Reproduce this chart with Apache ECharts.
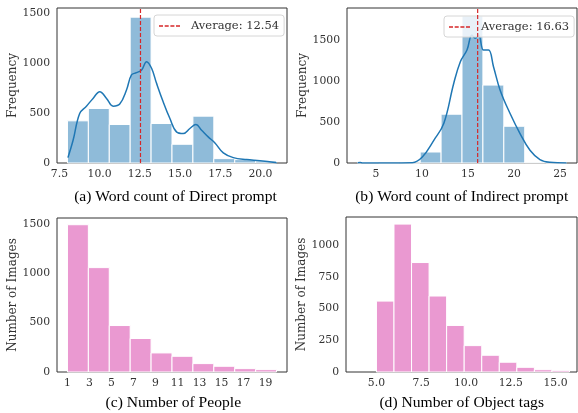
<!DOCTYPE html>
<html>
<head>
<meta charset="utf-8">
<script src="https://cdn.jsdelivr.net/npm/echarts@6/dist/echarts.min.js"></script>
<style>html,body{margin:0;padding:0;background:#fff}#c{width:578px;height:413px}</style>
</head>
<body>
<div id="c"></div>
<script>
// ---- data ----
const edgesA = [8, 9.3, 10.6, 11.9, 13.2, 14.5, 15.8, 17.1, 18.4, 19.7, 21];
const countsA = [423, 547, 386, 1463, 396, 188, 470, 44, 34, 20];
const kdeAx = [8.03, 8.35, 8.76, 9.18, 9.59, 10.01, 10.43, 10.84, 11.25, 11.67, 11.98, 12.29, 12.61, 12.92, 13.23, 13.54, 13.95, 14.37, 14.78, 15.2, 15.61, 15.99, 16.34, 16.75, 17.17, 17.69, 18.31, 19.14, 19.97, 21.01];
const kdeAy = [54, 228, 497, 570, 648, 715, 648, 570, 591, 732, 883, 906, 933, 1017, 950, 799, 614, 446, 312, 295, 346, 386, 329, 262, 201, 101, 54, 34, 23, 3];
const meanA = 12.54;
const legendA = 'Average: 12.54';

const edgesB = [3, 5.27, 7.54, 9.81, 12.08, 14.35, 16.62, 18.89, 21.16, 23.43, 25.7];
const countsB = [5, 0, 0, 134, 595, 1793, 950, 448, 8, 1];
const kdeBx = [3.02, 3.3, 3.56, 8.96, 10.04, 11.29, 12.37, 13.45, 14.17, 14.89, 15.43, 15.79, 16.15, 16.69, 17.23, 17.77, 18.49, 19.57, 20.65, 21.73, 22.81, 23.88, 25.7];
const kdeBy = [4, 5, 0, 4, 73, 277, 481, 970, 1235, 1377, 1561, 1520, 1561, 1377, 1377, 1174, 888, 603, 359, 155, 41, 8, 0];
const meanB = 16.05;
const legendB = 'Average: 16.63';

const edgesC = [1, 2.9, 4.8, 6.7, 8.6, 10.5, 12.4, 14.3, 16.2, 18.1, 20];
const countsC = [1490, 1056, 470, 339, 193, 159, 85, 58, 34, 24];
const ticksC = [1, 3, 5, 7, 9, 11, 13, 15, 17, 19];

const edgesD = [5, 5.98, 6.96, 7.94, 8.92, 9.9, 10.88, 11.86, 12.84, 13.82, 14.8, 15.78];
const countsD = [559, 1166, 863, 599, 367, 208, 132, 77, 37, 18, 13];
const ticksD = [5, 7.5, 10, 12.5, 15];

const ticksA = [7.5, 10, 12.5, 15, 17.5, 20];
const ticksB = [5, 10, 15, 20, 25];

const captions = ['(a) Word count of Direct prompt', '(b) Word count of Indirect prompt', '(c) Number of People', '(d) Number of Object tags'];
const yNames = ['Frequency', 'Frequency', 'Number of Images', 'Number of Images'];

// ---- styling ----
const F = 'DejaVu Serif';
const TXT = '#333';
const BLUE_BAR = '#8fbbd9';
const PINK_BAR = '#ea99d1';
const KDE = '#1f77b4';
const RED = '#d62728';
const DASH_ICON = 'path://M0,0h4v1.5h-4z M5.7,0h4v1.5h-4z M11.4,0h4v1.5h-4z M17,0h4v1.5h-4z M26.9,0h0.1v0.05h-0.1z';

function binData(edges, counts) {
  return counts.map((c, i) => [edges[i], edges[i + 1], c]);
}
function histSeries(idx, edges, counts, color) {
  return {
    type: 'custom', xAxisIndex: idx, yAxisIndex: idx,
    data: binData(edges, counts),
    encode: { x: [0, 1], y: 2 },
    renderItem: function (params, api) {
      const p0 = api.coord([api.value(0), api.value(2)]);
      const p1 = api.coord([api.value(1), 0]);
      return {
        type: 'rect',
        shape: { x: p0[0], y: p0[1], width: p1[0] - p0[0], height: p1[1] - p0[1] },
        style: { fill: color, stroke: '#ffffff', lineWidth: 1 }
      };
    },
    z: 2, silent: true
  };
}
function kdeSeries(idx, xs, ys) {
  return {
    type: 'line', xAxisIndex: idx, yAxisIndex: idx, smooth: 0.4, symbol: 'none',
    data: xs.map((x, i) => [x, ys[i]]),
    lineStyle: { color: KDE, width: 1.5 }, z: 3, silent: true
  };
}
function meanSeries(idx, name, x, top) {
  return {
    type: 'line', name: name, xAxisIndex: idx, yAxisIndex: idx, symbol: 'none',
    data: [[x, 0], [x, top]],
    lineStyle: { color: RED, width: 1.2, type: [4, 2] },
    itemStyle: { color: RED }, z: 4, silent: true
  };
}
function xAxis(idx, min, max, ticks, fmt) {
  return {
    type: 'value', gridIndex: idx, min: min, max: max,
    axisLine: { show: false }, axisTick: { show: false }, splitLine: { show: false },
    axisLabel: { customValues: ticks, formatter: fmt, fontFamily: F, fontSize: 10.8, color: TXT, margin: 6 }
  };
}
function yAxis(idx, max, interval, name) {
  return {
    type: 'value', gridIndex: idx, min: 0, max: max, interval: interval,
    name: name, nameLocation: 'middle', nameGap: 32,
    nameTextStyle: { fontFamily: F, fontSize: 12, color: TXT },
    axisLine: { show: false }, axisTick: { show: false }, splitLine: { show: false },
    axisLabel: { fontFamily: F, fontSize: 10.8, color: TXT, margin: 7, showMaxLabel: false, formatter: v => String(v) }
  };
}
function legendCfg(name, left, top) {
  return {
    data: [{ name: name, icon: DASH_ICON, itemStyle: { color: RED } }],
    left: left, top: top, orient: 'vertical',
    itemWidth: 27, itemHeight: 1.5, itemGap: 5, padding: [5, 5, 4, 5],
    backgroundColor: 'rgba(255,255,255,0.8)', borderColor: '#d6d6d6', borderWidth: 1, borderRadius: 3,
    textStyle: { fontFamily: F, fontSize: 11.5, color: TXT }
  };
}
const gridBase = { show: true, borderColor: '#333', borderWidth: 1, backgroundColor: 'transparent', containLabel: false };

const yMaxA = 1555, yMaxB = 1890, yMaxC = 1558, yMaxD = 1222;

const capFont = '15.6px "Liberation Serif"';
const option = {
  animation: false,
  backgroundColor: '#fff',
  grid: [
    Object.assign({ left: 57, top: 8, width: 230, height: 155 }, gridBase),
    Object.assign({ left: 347, top: 8, width: 230, height: 155 }, gridBase),
    Object.assign({ left: 57, top: 218, width: 230, height: 154 }, gridBase),
    Object.assign({ left: 346, top: 217, width: 231, height: 155 }, gridBase)
  ],
  xAxis: [
    xAxis(0, 7.35, 21.65, ticksA, v => v.toFixed(1)),
    xAxis(1, 1.865, 26.835, ticksB, v => String(v)),
    xAxis(2, 0.05, 20.95, ticksC, v => String(v)),
    xAxis(3, 3.3, 16.2, ticksD, v => v.toFixed(1))
  ],
  yAxis: [
    yAxis(0, yMaxA, 500, yNames[0]),
    yAxis(1, yMaxB, 500, yNames[1]),
    yAxis(2, yMaxC, 500, yNames[2]),
    yAxis(3, yMaxD, 250, yNames[3])
  ],
  legend: [legendCfg(legendA, 154, 15), legendCfg(legendB, 444, 16)],
  series: [
    histSeries(0, edgesA, countsA, BLUE_BAR),
    kdeSeries(0, kdeAx, kdeAy),
    meanSeries(0, legendA, meanA, yMaxA),
    histSeries(1, edgesB, countsB, BLUE_BAR),
    kdeSeries(1, kdeBx, kdeBy),
    meanSeries(1, legendB, meanB, yMaxB),
    histSeries(2, edgesC, countsC, PINK_BAR),
    histSeries(3, edgesD, countsD, PINK_BAR)
  ],
  graphic: [
    { type: 'text', x: 175.5, y: 197, style: { text: captions[0], textAlign: 'center', textVerticalAlign: 'middle', font: capFont, fill: '#000' } },
    { type: 'text', x: 461.7, y: 197, style: { text: captions[1], textAlign: 'center', textVerticalAlign: 'middle', font: capFont, fill: '#000' } },
    { type: 'text', x: 173.3, y: 403, style: { text: captions[2], textAlign: 'center', textVerticalAlign: 'middle', font: capFont, fill: '#000' } },
    { type: 'text', x: 461.7, y: 403, style: { text: captions[3], textAlign: 'center', textVerticalAlign: 'middle', font: capFont, fill: '#000' } }
  ]
};
const chart = echarts.init(document.getElementById('c'), null, { renderer: 'canvas' });
chart.setOption(option);
</script>
</body>
</html>
